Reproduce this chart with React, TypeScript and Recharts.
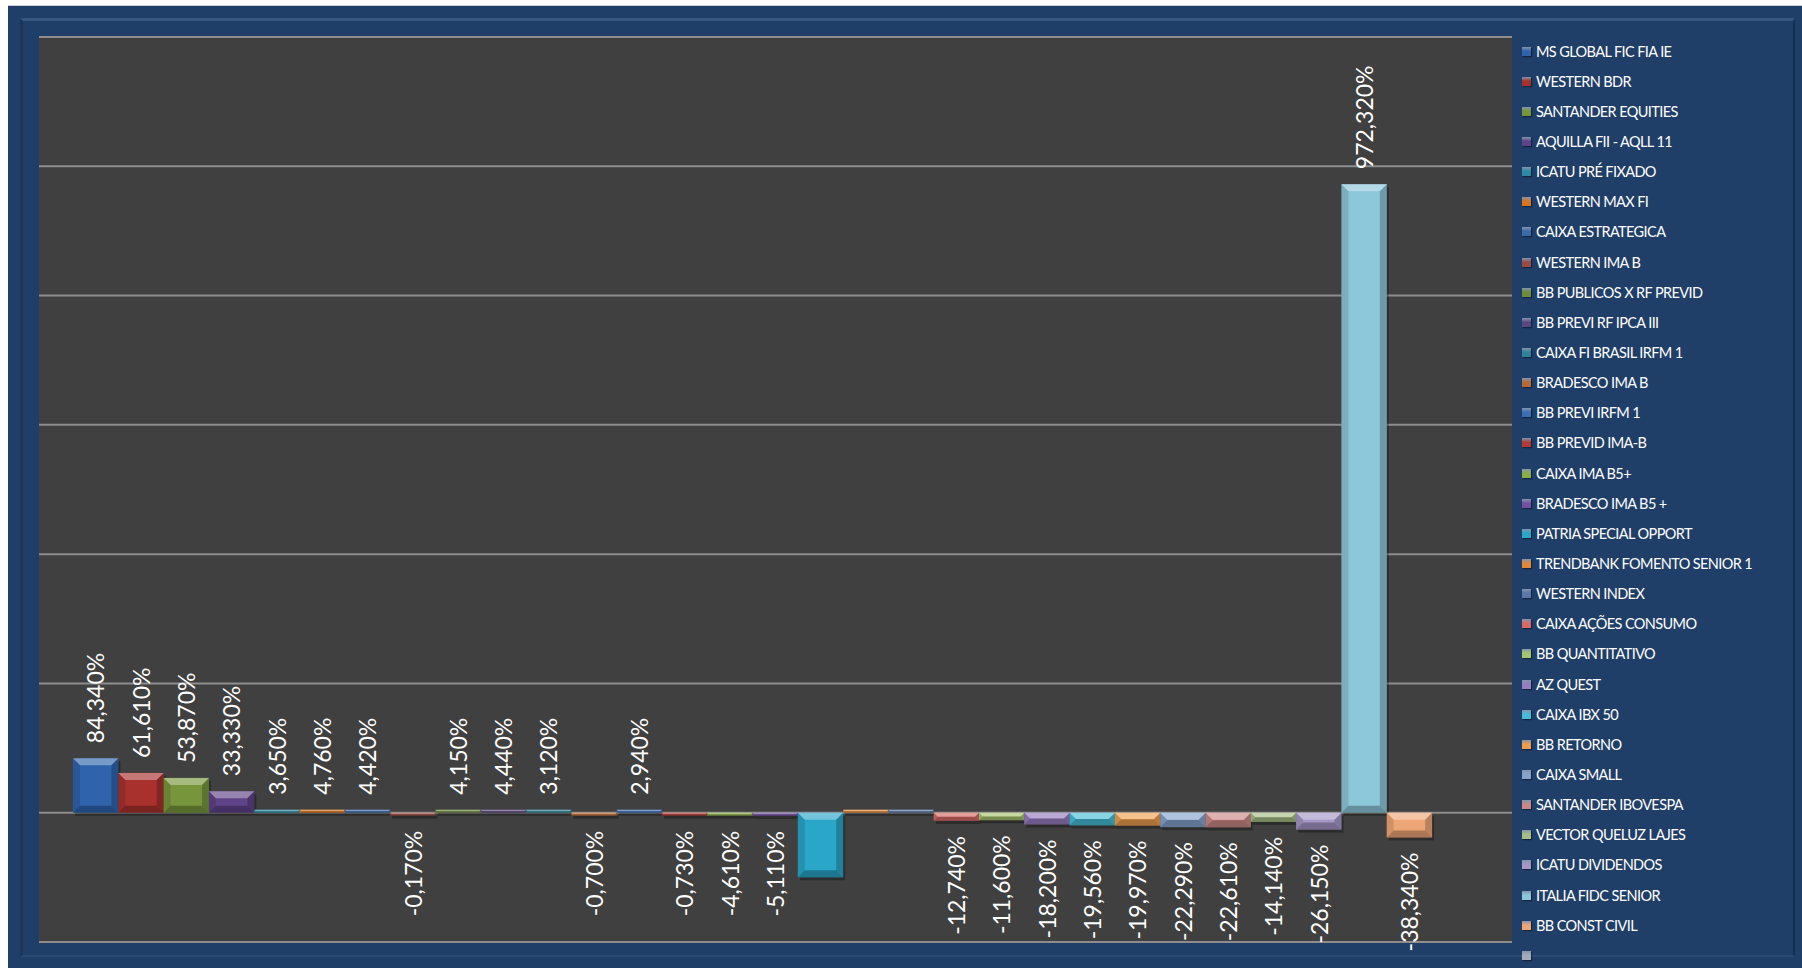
import { Bar, BarChart, CartesianGrid, LabelList, XAxis, YAxis } from "recharts";

const fundos = [
  "MS GLOBAL FIC FIA IE",
  "WESTERN BDR",
  "SANTANDER EQUITIES",
  "AQUILLA FII - AQLL 11",
  "ICATU PRÉ FIXADO",
  "WESTERN MAX FI",
  "CAIXA ESTRATEGICA",
  "WESTERN IMA B",
  "BB PUBLICOS X RF PREVID",
  "BB PREVI RF IPCA III",
  "CAIXA FI BRASIL IRFM 1",
  "BRADESCO IMA B",
  "BB PREVI IRFM 1",
  "BB PREVID IMA-B",
  "CAIXA IMA B5+",
  "BRADESCO IMA B5 +",
  "PATRIA SPECIAL OPPORT",
  "TRENDBANK FOMENTO SENIOR 1",
  "WESTERN INDEX",
  "CAIXA AÇÕES CONSUMO",
  "BB QUANTITATIVO",
  "AZ QUEST",
  "CAIXA IBX 50",
  "BB RETORNO",
  "CAIXA SMALL",
  "SANTANDER IBOVESPA",
  "VECTOR QUELUZ LAJES",
  "ICATU DIVIDENDOS",
  "ITALIA FIDC SENIOR",
  "BB CONST CIVIL",
  "",
];

// rentabilidade em %
const valores: (number | null)[] = [
  84.34, 61.61, 53.87, 33.33, 3.65, 4.76, 4.42, -0.17, 4.15, 4.44, 3.12, -0.7,
  2.94, -0.73, -4.61, -5.11, -100, 0, 0, -12.74, -11.6, -18.2, -19.56, -19.97,
  -22.29, -22.61, -14.14, -26.15, 972.32, -38.34, null,
];

const cores = [
  "#2f64ad", "#a8312d", "#77963b", "#5f4388", "#2b8ba5", "#d7741f",
  "#3b6aa8", "#9a4a46", "#6e8c3c", "#5c4680", "#2e8299", "#b86a34",
  "#3c6eb4", "#b23b38", "#8bad46", "#7351a0", "#2aa6c8", "#e0883a",
  "#5a78a8", "#d56a67", "#a6c36e", "#977cbf", "#45bdd6", "#ee9e4e",
  "#86a3cc", "#c98886", "#a6be86", "#a596c6", "#8cc7da", "#efa676",
  "#a3aab8",
];

const ticksY = [-200, 0, 200, 400, 600, 800, 1000, 1200];
const dominioY: [number, number] = [-200, 1200];

const fonte = "Lato, 'Open Sans', sans-serif";
const LARGURA = 1794;
const ALTURA = 963;

const linha: Record<string, number | string | null> = { cat: "Fundos" };
valores.forEach((v, i) => {
  linha[`s${i}`] = v;
});
const dados = [linha];

function fmtPct(v: number) {
  return v.toFixed(3).replace(".", ",") + "%";
}

function BarraBisel(props: any) {
  const { x, y, width, height, fill, valor } = props;
  if (valor == null || width == null) return <g />;
  const top = Math.min(y, y + height);
  const h = Math.abs(height);
  const w = width + 0.4;
  const b = Math.min(7, h / 2, w / 4);
  const l = x;
  const r = x + w;
  const bt = top + h;
  return (
    <g>
      <rect x={l + 2} y={top + 3} width={w} height={h} fill="#000" opacity={0.3} />
      <rect x={l} y={top} width={w} height={h} fill={fill} />
      <polygon points={`${l},${top} ${r},${top} ${r - b},${top + b} ${l + b},${top + b}`} fill="#fff" opacity={0.35} />
      <polygon points={`${l},${top} ${l + b},${top + b} ${l + b},${bt - b} ${l},${bt}`} fill="#000" opacity={0.12} />
      <polygon points={`${r},${top} ${r - b},${top + b} ${r - b},${bt - b} ${r},${bt}`} fill="#000" opacity={0.22} />
      <polygon points={`${l},${bt} ${l + b},${bt - b} ${r - b},${bt - b} ${r},${bt}`} fill="#000" opacity={0.28} />
    </g>
  );
}

function RotuloVertical(props: any) {
  const { valor } = props;
  if (valor == null || valor === 0) return null;
  const vb = props.viewBox ?? props;
  const { x, y, width, height } = vb;
  if (x == null) return null;
  const cx = x + width / 2;
  const top = Math.min(y, y + height);
  const bottom = Math.max(y, y + height);
  const texto = fmtPct(valor);
  const gap = 15;
  const tam = 23;
  const comp = texto.length * tam * 0.55;
  if (valor < 0 && bottom + gap + comp > ALTURA) return null;
  const ay = valor >= 0 ? top - gap : bottom + gap;
  return (
    <text
      x={cx}
      y={ay}
      transform={`rotate(-90, ${cx}, ${ay})`}
      textAnchor={valor >= 0 ? "start" : "end"}
      dominantBaseline="central"
      fill="#ffffff"
      fontSize={tam}
      fontFamily={fonte}
    >
      {texto}
    </text>
  );
}

function Legenda() {
  return (
    <div style={{ position: "absolute", left: 1514, top: 30, fontFamily: fonte }}>
      {fundos.map((f, i) => (
        <div key={i} style={{ display: "flex", alignItems: "center", height: 30.15 }}>
          <div
            style={{
              width: 9,
              height: 9,
              marginRight: 5,
              background: `linear-gradient(180deg, rgba(255,255,255,0.45) 0%, ${cores[i]} 45%, ${cores[i]} 100%)`,
              boxShadow: "1px 1px 1px rgba(0,0,0,0.4)",
            }}
          />
          <span style={{ color: "#ffffff", fontSize: 14.5, letterSpacing: -0.6, whiteSpace: "nowrap" }}>{f}</span>
        </div>
      ))}
    </div>
  );
}

// linhas de grade horizontais nos mesmos valores dos ticks do eixo Y
function linhasGrade(p: any) {
  const { top, height } = p.offset;
  const [min, max] = dominioY;
  return ticksY.map((t) => top + ((max - t) / (max - min)) * height);
}

export default function App() {
  return (
    <div style={{ paddingLeft: 8, paddingTop: 5, background: "#ffffff" }}>
      <style>{`body{margin:0;overflow:hidden}`}</style>
      <div
        style={{
          position: "relative",
          width: LARGURA,
          height: ALTURA,
          background: "#1f3e68",
          borderTop: "1px solid #c9d0da",
          boxSizing: "border-box",
        }}
      >
        <div
          style={{
            position: "absolute",
            left: 12,
            top: 12,
            width: 1775,
            height: 939,
            boxSizing: "border-box",
            borderTop: "3px solid #36557f",
            borderLeft: "3px solid #1a3558",
            borderRight: "2px solid #17304f",
            borderBottom: "2px solid #2c4b74",
          }}
        />
        <div style={{ position: "absolute", left: 0, top: -1 }}>
          <BarChart
            width={LARGURA}
            height={ALTURA}
            data={dados}
            margin={{ top: 32, left: 31, right: LARGURA - 31 - 1473, bottom: 26 }}
            barCategoryGap={34}
            barGap={0.3}
          >
            <CartesianGrid
              fill="#404040"
              fillOpacity={1}
              stroke="#8d8d8d"
              strokeWidth={2}
              vertical={false}
              horizontalCoordinatesGenerator={linhasGrade}
            />
            <XAxis dataKey="cat" hide />
            <YAxis
              domain={dominioY}
              ticks={ticksY}
              tick={false}
              tickLine={false}
              axisLine={false}
              width={0}
            />
            {fundos.map((f, i) => (
              <Bar
                key={i}
                dataKey={`s${i}`}
                name={f}
                fill={cores[i]}
                minPointSize={3}
                isAnimationActive={false}
                shape={(p: any) => <BarraBisel {...p} valor={valores[i]} />}
              >
                <LabelList content={(p: any) => <RotuloVertical {...p} valor={valores[i]} />} />
              </Bar>
            ))}
          </BarChart>
        </div>
        <Legenda />
      </div>
    </div>
  );
}
